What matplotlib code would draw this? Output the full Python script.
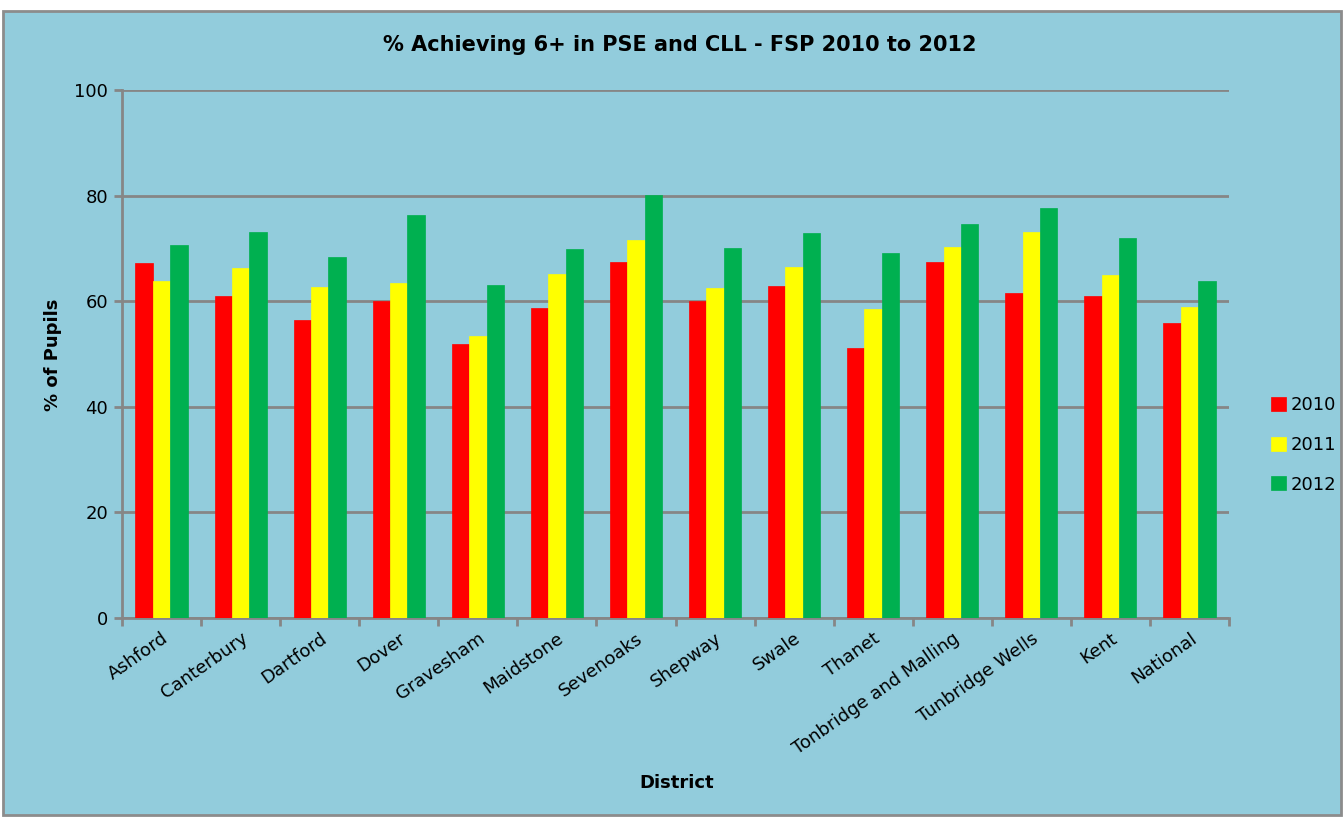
import numpy as np
import matplotlib
matplotlib.use('Agg')
import matplotlib.pyplot as plt
from matplotlib.patches import Rectangle
matplotlib.rcParams.update({'font.family': 'DejaVu Sans'})

districts = ['Ashford', 'Canterbury', 'Dartford', 'Dover', 'Gravesham', 'Maidstone',
             'Sevenoaks', 'Shepway', 'Swale', 'Thanet', 'Tonbridge and Malling',
             'Tunbridge Wells', 'Kent', 'National']
y2010 = [67.2, 61.0, 56.4, 60.0, 51.9, 58.7, 67.5, 60.1, 62.9, 51.1, 67.5, 61.5, 60.9, 55.9]
y2011 = [63.8, 66.2, 62.6, 63.5, 53.5, 65.1, 71.5, 62.5, 66.5, 58.5, 70.2, 73.1, 64.9, 58.9]
y2012 = [70.6, 73.2, 68.3, 76.3, 63.0, 69.8, 80.2, 70.1, 73.0, 69.2, 74.6, 77.6, 71.9, 63.9]
years = ['2010', '2011', '2012']
colours = ['#FF0000', '#FFFF00', '#00B050']

bg = '#92CCDC'
grey = '#868686'

fig = plt.figure(figsize=(13.44, 8.23), dpi=100)
fig.patch.set_facecolor('white')
# chart area panel with grey border (behind the axes)
fig.patches.append(Rectangle((3/1344, 8/823), 1338/1344, 804/823, transform=fig.transFigure,
                             facecolor=bg, edgecolor='#8c8c8c', linewidth=2, zorder=-10))

ax = fig.add_axes([122/1344, 1-618/823, 1107/1344, 528/823])
ax.set_facecolor(bg)
ax.patch.set_alpha(0)

x = np.arange(len(districts))
w = 0.22
for i, (vals, c, lab) in enumerate(zip([y2010, y2011, y2012], colours, years)):
    ax.bar(x + (i-1)*w, vals, width=w, color=c, label=lab, zorder=3,
           edgecolor=c, linewidth=0.5)

ax.set_xlim(-0.5, len(districts)-0.5)
ax.set_ylim(0, 100)
ax.set_yticks(np.arange(0, 101, 20))
ax.yaxis.grid(True, color=grey, linewidth=2)
ax.set_axisbelow(True)

ax.set_xticks(np.arange(-0.5, len(districts), 1.0))
ax.set_xticklabels([])
ax.set_xticks(x, minor=True)
ax.set_xticklabels(districts, minor=True, rotation=35, ha='right', rotation_mode='anchor',
                   fontsize=13)
ax.tick_params(axis='x', which='minor', length=0, pad=8)
ax.tick_params(axis='x', which='major', length=6, width=2, color=grey)
ax.tick_params(axis='y', length=6, width=2, color=grey, labelsize=13, pad=4)

for s in ['top', 'right']:
    ax.spines[s].set_visible(False)
for s in ['left', 'bottom']:
    ax.spines[s].set_color(grey)
    ax.spines[s].set_linewidth(2)

fig.text(680/1344, 1-45/823, '% Achieving 6+ in PSE and CLL - FSP 2010 to 2012',
         ha='center', va='center', fontsize=15, fontweight='bold')
fig.text(53/1344, 1-355/823, '% of Pupils', ha='center', va='center', rotation=90,
         fontsize=13, fontweight='bold')
fig.text(677/1344, 1-783/823, 'District', ha='center', va='center',
         fontsize=13, fontweight='bold')

ax.legend(loc='center left', bbox_to_anchor=(1255/1107 - 122/1107, (618-445)/528),
          frameon=False, fontsize=13, handlelength=0.8, handleheight=0.8,
          handletextpad=0.3, labelspacing=1.2)

fig.savefig('out.png', dpi=100, facecolor='white')
